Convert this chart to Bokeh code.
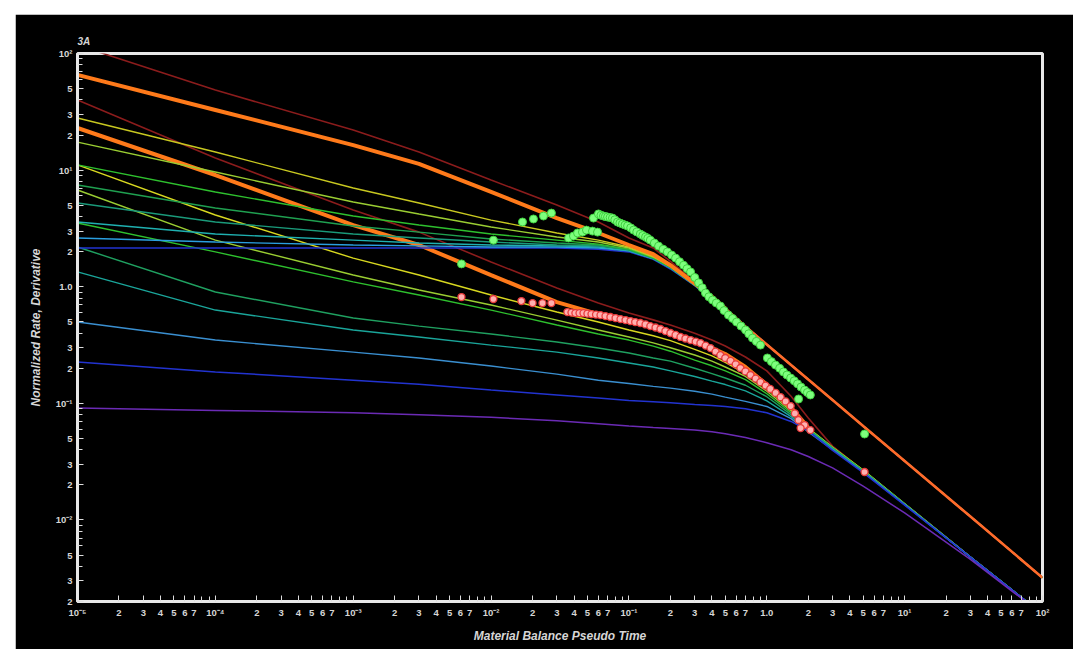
from bokeh.plotting import figure
from bokeh.models import Range1d, FixedTicker, CustomJSTickFormatter, Spacer
from bokeh.layouts import column, row
from bokeh.embed import file_html
from bokeh.resources import INLINE

# ---------------- data ----------------
X_GRID = [1e-5, 1e-4, 1e-3, 3e-3, 1e-2, 0.03, 0.06, 0.1, 0.15, 0.2, 0.3, 0.4, 0.5,
          0.7, 1, 1.5, 2, 3, 5, 10, 30, 100]

# upper family: flattens near 2, then follows the upper harmonic line
UPPER_TAIL = [0.457, 0.32, 0.213, 0.16, 0.107, 0.064, 0.032, 0.0107, 0.0032]
UP_DARKRED = [118, 48.6, 22.1, 14.3, 8.22, 5.02, 3.59, 2.62, 2.15, 1.65, 1.10, 0.84, 0.66]
UP_ORANGE = [65.5, 32.8, 16.4, 11.3, 6.5, 3.88, 2.89, 2.28, 1.90, 1.53, 1.07, 0.82, 0.65]
UP_YELLOW = [28.0, 14.3, 7.02, 5.22, 3.73, 2.89, 2.51, 2.19, 1.82, 1.50, 1.05, 0.81, 0.645]
UP_LIME = [17.4, 9.63, 5.33, 4.20, 3.25, 2.67, 2.42, 2.15, 1.80, 1.50, 1.05, 0.81, 0.645]
UP_GREEN = [11.1, 6.49, 4.04, 3.38, 2.83, 2.51, 2.32, 2.10, 1.78, 1.47, 1.04, 0.80, 0.64]
UP_SEAGREEN = [7.45, 4.73, 3.32, 2.94, 2.57, 2.37, 2.28, 2.07, 1.76, 1.47, 1.04, 0.80, 0.64]
UP_TEAL = [5.22, 3.59, 2.83, 2.62, 2.42, 2.28, 2.24, 2.07, 1.75, 1.45, 1.03, 0.80, 0.64]
UP_CYAN = [3.59, 2.83, 2.51, 2.37, 2.28, 2.24, 2.19, 2.03, 1.74, 1.45, 1.03, 0.79, 0.635]
UP_SKY = [2.62, 2.42, 2.28, 2.24, 2.19, 2.19, 2.15, 2.03, 1.74, 1.45, 1.03, 0.79, 0.635]
UP_BLUE = [2.15, 2.15, 2.15, 2.15, 2.15, 2.15, 2.10, 1.99, 1.72, 1.42, 1.02, 0.78, 0.63]

# lower family: flattens, then follows the lower harmonic line
LO_DARKRED = [39.9, 12.7, 4.55, 2.94, 1.63, 0.975, 0.724, 0.595, 0.52, 0.47, 0.40, 0.35, 0.31,
              0.25, 0.19, 0.115, 0.075, 0.043, 0.0265, 0.0137, 0.0048, 0.00156]
LO_ORANGE = [23.0, 9.08, 3.38, 2.28, 1.26, 0.739, 0.583, 0.508, 0.45, 0.409, 0.335, 0.298, 0.265,
             0.205, 0.145, 0.092, 0.062]
LO_YELLOW = [11.1, 4.12, 1.76, 1.26, 0.849, 0.607, 0.498, 0.426, 0.38, 0.345, 0.29, 0.255, 0.225,
             0.18, 0.134, 0.088, 0.0615, 0.042, 0.0268, 0.0138, 0.0048, 0.00156]
LO_LIME = [6.75, 2.51, 1.26, 0.937, 0.697, 0.518, 0.426, 0.371, 0.33, 0.30, 0.26, 0.23, 0.205,
           0.17, 0.127, 0.086, 0.061, 0.0418, 0.0267, 0.0138, 0.0048, 0.00156]
LO_GREEN = [3.52, 1.99, 1.10, 0.849, 0.631, 0.470, 0.393, 0.349, 0.31, 0.28, 0.235, 0.21, 0.19,
            0.16, 0.121, 0.083, 0.0605, 0.0415, 0.0265, 0.0137, 0.0048, 0.00156]
LO_SEAGREEN = [2.19, 0.901, 0.540, 0.460, 0.393, 0.336, 0.298, 0.270, 0.245, 0.23, 0.20, 0.18, 0.165,
               0.143, 0.114, 0.080, 0.060, 0.0412, 0.0263, 0.0137, 0.0048, 0.00156]
LO_TEAL = [1.34, 0.631, 0.426, 0.371, 0.316, 0.275, 0.245, 0.222, 0.205, 0.19, 0.17, 0.155, 0.145,
           0.128, 0.105, 0.077, 0.059, 0.0408, 0.026, 0.0136, 0.0048, 0.00156]
LO_STEEL = [0.498, 0.349, 0.275, 0.245, 0.209, 0.178, 0.158, 0.148, 0.14, 0.135, 0.127, 0.12, 0.113,
            0.104, 0.094, 0.074, 0.057, 0.040, 0.0258, 0.0135, 0.0048, 0.00156]
LO_BLUE = [0.226, 0.186, 0.158, 0.146, 0.130, 0.118, 0.111, 0.106, 0.103, 0.101, 0.098, 0.096, 0.094,
           0.090, 0.083, 0.070, 0.058, 0.0395, 0.0255, 0.0134, 0.0048, 0.00156]
LO_PURPLE = [0.0912, 0.087, 0.083, 0.080, 0.076, 0.071, 0.067, 0.064, 0.062, 0.061, 0.059, 0.057, 0.055,
             0.051, 0.046, 0.040, 0.035, 0.028, 0.0195, 0.0115, 0.0046, 0.00155]

# measured points
GREEN_X = [0.0061, 0.0104, 0.0169, 0.0203, 0.024, 0.0274, 0.0365, 0.0396, 0.0424, 0.046, 0.0492,
           0.0544, 0.0592, 0.0553, 0.0601, 0.0627, 0.0653, 0.0675, 0.070, 0.073, 0.076, 0.079,
           0.0826, 0.086, 0.0897, 0.0937, 0.0977, 0.103, 0.108, 0.114, 0.121, 0.126, 0.132, 0.137,
           0.143, 0.153, 0.164, 0.177, 0.19, 0.204, 0.218, 0.233, 0.249, 0.264, 0.28, 0.30, 0.32,
           0.34, 0.359, 0.38, 0.404, 0.43, 0.461, 0.49, 0.527, 0.565, 0.603, 0.65, 0.701, 0.74,
           0.787, 0.84, 0.9, 1.01, 1.08, 1.156, 1.24, 1.32, 1.40, 1.49, 1.58, 1.67, 1.77, 1.88,
           1.97, 2.07, 1.70, 5.12]
GREEN_Y = [1.57, 2.51, 3.59, 3.81, 4.04, 4.28, 2.62, 2.72, 2.89, 2.94, 3.06,
           3.0, 2.94, 3.88, 4.21, 4.10, 4.04, 4.0, 3.96, 3.92, 3.88, 3.75,
           3.59, 3.52, 3.45, 3.38, 3.32, 3.20, 3.06, 2.95, 2.83, 2.75, 2.67, 2.60,
           2.51, 2.37, 2.23, 2.10, 1.99, 1.87, 1.76, 1.64, 1.53, 1.43, 1.34, 1.20, 1.08,
           0.98, 0.883, 0.82, 0.769, 0.725, 0.683, 0.625, 0.571, 0.535, 0.498, 0.46, 0.426, 0.395,
           0.363, 0.34, 0.316, 0.245, 0.228, 0.213, 0.20, 0.186, 0.175, 0.165, 0.156, 0.147, 0.138, 0.13,
           0.124, 0.118, 0.109, 0.0546]
PINK_X = [0.0061, 0.0104, 0.0166, 0.02, 0.0236, 0.0274, 0.0358, 0.0383, 0.0409, 0.0438, 0.0468,
          0.050, 0.0535, 0.0577, 0.0622, 0.0676, 0.0734, 0.080, 0.0869, 0.0945, 0.1026, 0.111,
          0.121, 0.132, 0.143, 0.156, 0.1694, 0.184, 0.2, 0.218, 0.2366, 0.257, 0.28, 0.305,
          0.33, 0.36, 0.391, 0.425, 0.461, 0.50, 0.546, 0.595, 0.644, 0.70, 0.762, 0.83, 0.9,
          0.98, 1.06, 1.16, 1.26, 1.37, 1.49, 1.60, 1.70, 1.88, 2.07, 1.76, 5.12]
PINK_Y = [0.816, 0.785, 0.754, 0.724, 0.724, 0.724, 0.607, 0.60, 0.594, 0.594, 0.594,
          0.588, 0.583, 0.577, 0.571, 0.56, 0.55, 0.539, 0.528, 0.518, 0.508, 0.498,
          0.489, 0.475, 0.46, 0.447, 0.434, 0.417, 0.401, 0.386, 0.371, 0.36, 0.349, 0.339,
          0.329, 0.313, 0.298, 0.278, 0.259, 0.245, 0.231, 0.216, 0.201, 0.188, 0.175, 0.163, 0.152,
          0.142, 0.133, 0.123, 0.113, 0.104, 0.0948, 0.082, 0.072, 0.0652, 0.059, 0.0614, 0.0258]

X_DECADE_LABELS = ["10\u207b\u2075", "10\u207b\u2074", "10\u207b\u00b3", "10\u207b\u00b2", "10\u207b\u00b9", "1.0", "10\u00b9", "10\u00b2"]
Y_DECADE_LABELS = ["10\u207b\u00b3", "10\u207b\u00b2", "10\u207b\u00b9", "1.0", "10\u00b9", "10\u00b2"]

# ---------------- figure ----------------
LABEL_COLOR = "#d6d6d6"
p = figure(width=1058, height=635, x_axis_type="log", y_axis_type="log",
           x_range=Range1d(1e-5, 100), y_range=Range1d(0.002, 100),
           output_backend="svg", toolbar_location=None,
           background_fill_color="black", border_fill_color="black",
           min_border_left=62, min_border_right=31, min_border_top=39, min_border_bottom=48)
p.outline_line_color = "#e8e8e8"
p.outline_line_width = 3
p.grid.visible = False

p.title.text = "3A"
p.title.text_color = LABEL_COLOR
p.title.text_font = "Liberation Sans"
p.title.text_font_size = "10px"
p.title.text_font_style = "bold italic"
p.title.align = "left"
p.title.standoff = 14

xt, xm = [], []
for e in range(-5, 2):
    for k in range(1, 10):
        (xt if k <= 7 else xm).append(k * 10.0 ** e)
xt.append(100.0)
yt, ym = [], []
for e in range(-3, 2):
    for k in range(1, 10):
        v = k * 10.0 ** e
        if v < 0.002:
            continue
        (yt if k in (1, 2, 3, 5) else ym).append(v)
yt.append(100.0)

code = """
const e = Math.floor(Math.log10(tick) + 1e-6);
const m = Math.round(tick / Math.pow(10, e));
if (m === 1) { return labels[e - e0]; }
return String(m);
"""
p.xaxis.ticker = FixedTicker(ticks=xt, minor_ticks=xm)
p.yaxis.ticker = FixedTicker(ticks=yt, minor_ticks=ym)
p.xaxis.formatter = CustomJSTickFormatter(args=dict(labels=X_DECADE_LABELS, e0=-5), code=code)
p.yaxis.formatter = CustomJSTickFormatter(args=dict(labels=Y_DECADE_LABELS, e0=-3), code=code)

for ax in (p.xaxis, p.yaxis):
    ax.axis_line_color = "#e8e8e8"
    ax.axis_line_width = 3
    ax.major_tick_in = 6
    ax.major_tick_out = 0
    ax.minor_tick_in = 5
    ax.minor_tick_out = 0
    ax.major_tick_line_color = "#dddddd"
    ax.minor_tick_line_color = "#dddddd"
    ax.major_label_text_color = LABEL_COLOR
    ax.major_label_text_font = "Liberation Sans"
    ax.major_label_text_font_size = "9.5px"
    ax.major_label_text_font_style = "bold"
    ax.major_label_standoff = 5
    ax.axis_label_text_color = LABEL_COLOR
    ax.axis_label_text_font = "Liberation Sans"
    ax.axis_label_text_font_size = "12px"
    ax.axis_label_text_font_style = "bold italic"
p.xaxis.axis_label = "Material Balance Pseudo Time"
p.yaxis.axis_label = "Normalized Rate, Derivative"
p.xaxis.axis_label_standoff = 8
p.yaxis.axis_label_standoff = 10

# lower family
p.line(X_GRID[:len(LO_ORANGE)], LO_ORANGE, line_color="#ff7a1a", line_width=4)
lower = [
    (LO_DARKRED, "#8b1c1c", 1.6),
    (LO_YELLOW, "#d8d820", 1.4),
    (LO_LIME, "#9acd32", 1.4),
    (LO_GREEN, "#2ec02e", 1.4),
    (LO_SEAGREEN, "#1fa060", 1.4),
    (LO_TEAL, "#1aa59a", 1.4),
    (LO_STEEL, "#3a8fd0", 1.4),
    (LO_BLUE, "#2233d0", 1.5),
    (LO_PURPLE, "#6b2bb5", 1.5),
]
for ys, col, w in lower:
    p.line(X_GRID, ys, line_color=col, line_width=w)

# upper family
upper = [
    (UP_BLUE, "#2233d0", 1.5),
    (UP_SKY, "#2a9fe0", 1.4),
    (UP_CYAN, "#1fb0b0", 1.4),
    (UP_TEAL, "#1a9a7a", 1.4),
    (UP_SEAGREEN, "#1fa050", 1.4),
    (UP_GREEN, "#2ec02e", 1.4),
    (UP_LIME, "#9acd32", 1.4),
    (UP_YELLOW, "#c8c820", 1.4),
    (UP_DARKRED, "#8b1c1c", 1.6),
]
for head, col, w in upper:
    p.line(X_GRID, head + UPPER_TAIL, line_color=col, line_width=w)

p.line(X_GRID[:len(UP_ORANGE)], UP_ORANGE, line_color="#ff7a1a", line_width=4)
p.line(X_GRID[len(UP_ORANGE) - 2:], UP_ORANGE[-2:] + UPPER_TAIL, line_color="#ff6a2a", line_width=2.6)

p.scatter(GREEN_X, GREEN_Y, size=8, fill_color="#7dff7d", line_color="#3fcf3f", line_width=1)
p.scatter(PINK_X, PINK_Y, size=7, fill_color="#ffb0b0", line_color="#e83a3a", line_width=1.3)

root = column(Spacer(height=14), row(Spacer(width=15), p))
open("out.html", "w").write(file_html(root, INLINE))
